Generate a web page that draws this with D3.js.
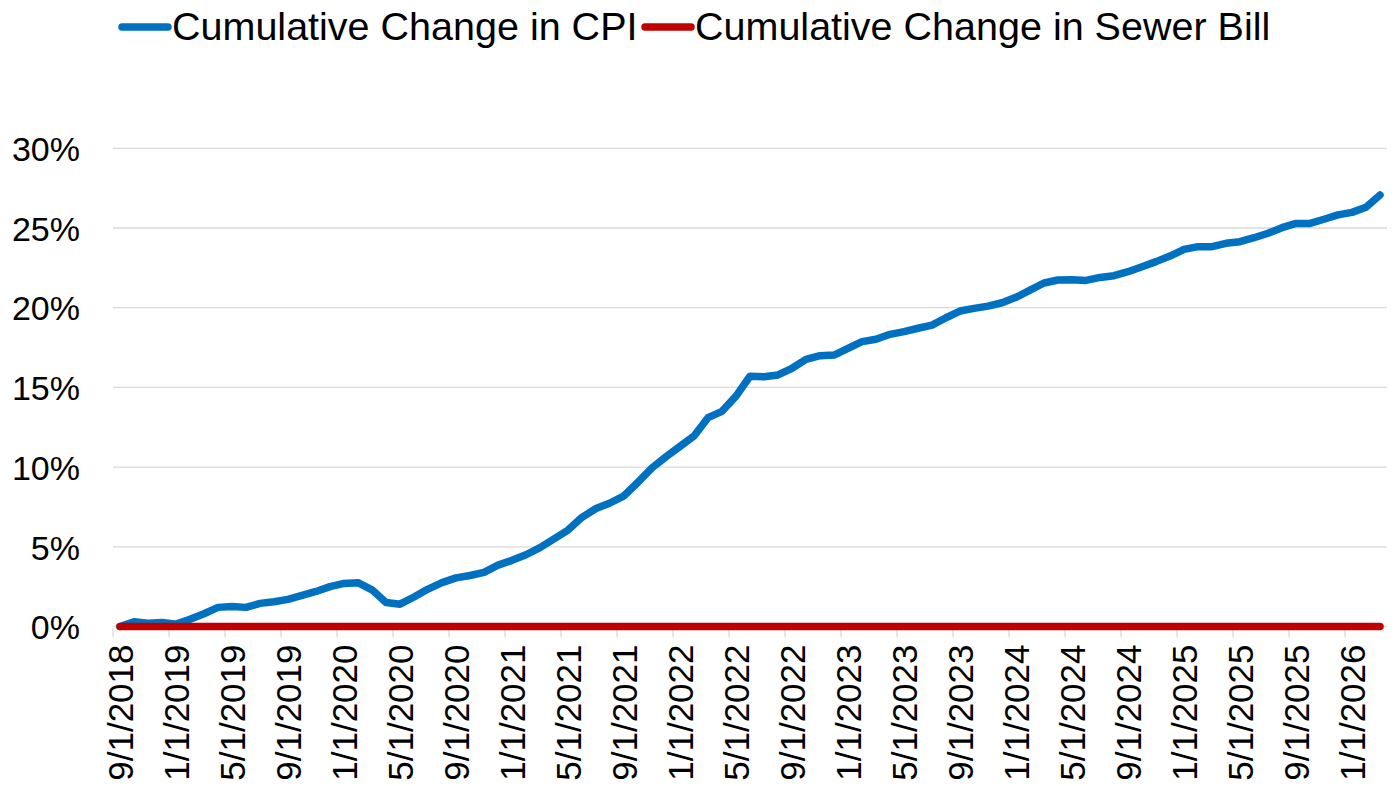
<!DOCTYPE html>
<html>
  <head>
    <title>Cumulative Change in CPI vs Sewer Bill</title>
    <meta charset="utf-8" />
    <script src="https://d3js.org/d3.v7.min.js"></script>
    <style>
        body { margin: 0; background: #fff; }
        text { font-family: "Liberation Sans", Arial, sans-serif; fill: #000; }
        .grid line { stroke: #d9d9d9; stroke-width: 1.3; }
        .axis--x path, .axis--y path { display: none; }
        .axis--y line { display: none; }
    </style>
  </head>
  <body>
<div id="chart">
    <svg width="1395" height="786"></svg>
</div>

    <script type="text/javascript">
        // months from 9/1/2018 to 3/1/2026
        var months = d3.timeMonth.range(new Date(2018, 8, 1), new Date(2026, 3, 1));
        var categories = months.map(function(d) { return (d.getMonth() + 1) + "/1/" + d.getFullYear(); });

        // cumulative change, in percent
        var cpi = [0, 0.3, 0.2, 0.25, 0.15, 0.45, 0.8, 1.2, 1.25, 1.2, 1.45, 1.55,
                   1.7, 1.95, 2.2, 2.5, 2.7, 2.75, 2.3, 1.5, 1.4, 1.85, 2.35, 2.75,
                   3.05, 3.2, 3.4, 3.85, 4.15, 4.5, 4.95, 5.5, 6.05, 6.85, 7.4, 7.75,
                   8.2, 9.05, 9.95, 10.65, 11.3, 11.95, 13.1, 13.5, 14.45, 15.7, 15.67, 15.78,
                   16.2, 16.76, 16.99, 17.03, 17.45, 17.87, 18.02, 18.33, 18.5, 18.71, 18.91, 19.37,
                   19.79, 19.96, 20.1, 20.31, 20.65, 21.1, 21.55, 21.74, 21.76, 21.71, 21.9, 22.01,
                   22.26, 22.57, 22.89, 23.24, 23.66, 23.83, 23.83, 24.04, 24.14, 24.39, 24.67, 25.02,
                   25.29, 25.29, 25.55, 25.82, 25.98, 26.3, 27.07];
        var sewer = [0, 0, 0, 0, 0, 0, 0, 0, 0, 0, 0, 0,
                     0, 0, 0, 0, 0, 0, 0, 0, 0, 0, 0, 0,
                     0, 0, 0, 0, 0, 0, 0, 0, 0, 0, 0, 0,
                     0, 0, 0, 0, 0, 0, 0, 0, 0, 0, 0, 0,
                     0, 0, 0, 0, 0, 0, 0, 0, 0, 0, 0, 0,
                     0, 0, 0, 0, 0, 0, 0, 0, 0, 0, 0, 0,
                     0, 0, 0, 0, 0, 0, 0, 0, 0, 0, 0, 0,
                     0, 0, 0, 0, 0, 0, 0];
        var yTicks = [0, 5, 10, 15, 20, 25, 30];
        var seriesNames = ["Cumulative Change in CPI", "Cumulative Change in Sewer Bill"];
        var seriesColors = ["#0070c0", "#c00000"];

        var svg = d3.select("svg");
        var plotLeft = 113, plotRight = 1387, plotTop = 148.3, plotBottom = 626.5;

        var x = d3.scaleBand().domain(categories).range([plotLeft, plotRight]).padding(0),
            y = d3.scaleLinear().domain([0, 30]).range([plotBottom, plotTop]);

        // gridlines
        svg.append("g")
            .attr("class", "grid")
          .selectAll("line")
          .data(yTicks)
          .enter().append("line")
            .attr("x1", plotLeft)
            .attr("x2", plotRight)
            .attr("y1", function(d) { return y(d); })
            .attr("y2", function(d) { return y(d); });

        // y labels
        svg.append("g")
            .attr("class", "axis axis--y")
            .attr("transform", "translate(" + (plotLeft - 33) + ",0)")
            .call(d3.axisLeft(y).tickValues(yTicks).tickSize(0).tickPadding(0)
                .tickFormat(function(d) { return d + "%"; }))
            .selectAll("text")
              .style("font-size", "34px")
              .attr("dy", "0.36em");

        // x tick marks at category boundaries, every 4 months
        var tickCats = categories.filter(function(d, i) { return i % 4 === 0; });
        svg.append("g")
            .attr("class", "grid")
          .selectAll("line")
          .data(tickCats)
          .enter().append("line")
            .attr("x1", function(d) { return x(d); })
            .attr("x2", function(d) { return x(d); })
            .attr("y1", plotBottom + 2)
            .attr("y2", plotBottom + 11);

        // x labels, rotated
        var xa = svg.append("g")
            .attr("class", "axis axis--x")
            .attr("transform", "translate(0," + (plotBottom + 18) + ")")
            .call(d3.axisBottom(x).tickValues(tickCats).tickSize(0).tickPadding(0));
        xa.selectAll("text")
            .style("font-size", "35px")
            .attr("text-anchor", "end")
            .attr("transform", "rotate(-90)")
            .attr("x", 0)
            .attr("y", 0)
            .attr("dy", "0.36em");

        // lines
        var line = d3.line()
            .x(function(d, i) { return x(categories[i]) + x.bandwidth() / 2; })
            .y(function(d) { return y(d); });

        [cpi, sewer].forEach(function(s, k) {
            svg.append("path")
                .datum(s)
                .attr("fill", "none")
                .attr("stroke", seriesColors[k])
                .attr("stroke-width", 7.5)
                .attr("stroke-linejoin", "round")
                .attr("stroke-linecap", "round")
                .attr("d", line);
        });

        // legend
        var legendX = [122, 645];
        var lg = svg.append("g").attr("class", "legend");
        seriesNames.forEach(function(name, k) {
            lg.append("line")
                .attr("x1", legendX[k])
                .attr("x2", legendX[k] + 46)
                .attr("y1", 27)
                .attr("y2", 27)
                .attr("stroke", seriesColors[k])
                .attr("stroke-width", 7.5)
                .attr("stroke-linecap", "round");
            lg.append("text")
                .attr("x", legendX[k] + 50)
                .attr("y", 40)
                .style("font-size", "39.5px")
                .text(name);
        });
    </script>
  </body>
</html>
